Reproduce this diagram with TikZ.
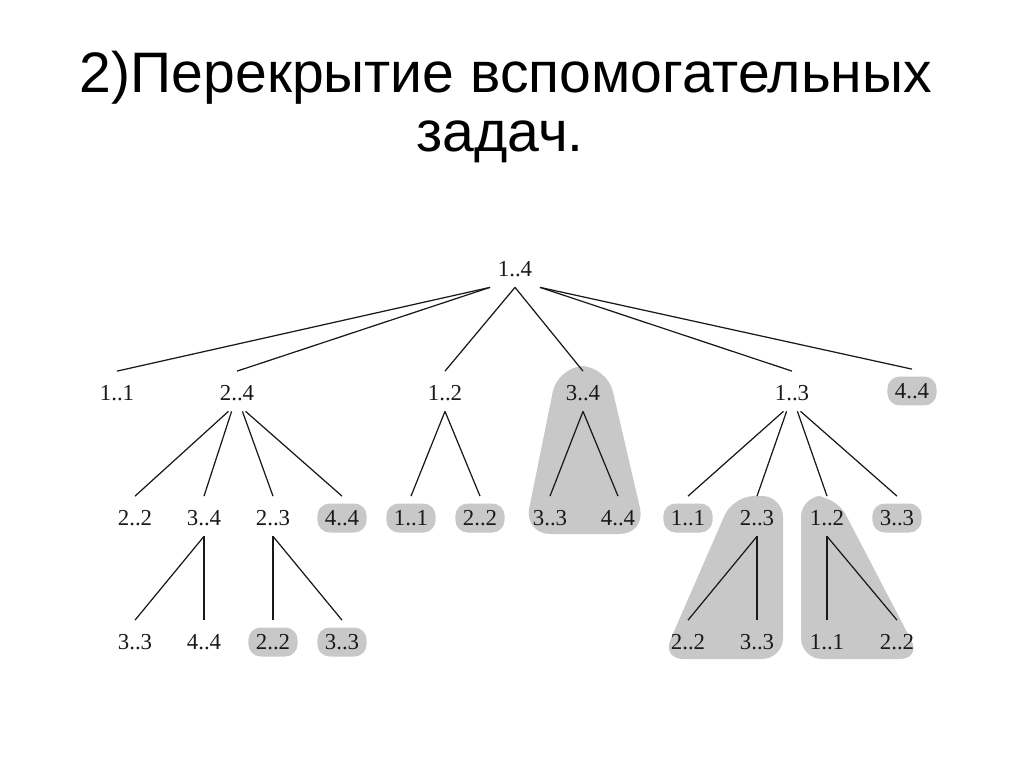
\documentclass[tikz,border=0pt]{standalone}
\usepackage{fontspec}
\setmainfont{Liberation Serif}
\newfontfamily\titlefont{Liberation Sans}
\definecolor{shade}{RGB}{200,200,200}
\definecolor{ink}{RGB}{25,25,25}
\tikzset{
  tn/.style={rectangle, rounded corners=7pt, minimum width=28pt, minimum height=16.5pt,
             inner sep=1pt, font=\fontsize{13}{15}\selectfont, text=ink},
  hl/.style={tn, fill=shade},
  edge/.style={draw=ink, line width=0.7pt},
  blob/.style={fill=shade, rounded corners=12pt},
  ttl/.style={font=\titlefont\fontsize{32.5}{34}\selectfont, anchor=base, inner sep=0pt, text=black},
}
\newcommand\tedge[2]{\draw[edge] ([yshift=-2pt]#1) -- ([yshift=4pt]#2.north);}
\begin{document}
\begin{tikzpicture}[x=0.02cm,y=-0.02cm]
\useasboundingbox (0,0) rectangle (1024,767);
\fill[white] (0,0) rectangle (1024,767);

% title
\node[ttl] (t1) at (506,92) {2)Перекрытие вспомогательных};
\node[ttl] (t2) at (500,152) {задач.};

% shaded subtrees
\fill[blob, rounded corners=15pt] (558,366) -- (607,366) -- (646,534) -- (524,534) -- cycle;
\fill[blob] (733,496) -- (783,496) -- (783,659) -- (662,659) -- cycle;
\fill[blob] (801,496) -- (836,496) -- (921,659) -- (801,659) -- cycle;

% root
\node[tn] (r) at (515,269) {1..4};
% level 1
\node[tn] (a) at (117,393) {1..1};
\node[tn] (b) at (237,393) {2..4};
\node[tn] (c) at (445,393) {1..2};
\node[tn] (d) at (583,393) {3..4};
\node[tn] (e) at (792,393) {1..3};
\node[hl] (f) at (912,391) {4..4};
% level 2
\node[tn] (b1) at (135,518) {2..2};
\node[tn] (b2) at (204,518) {3..4};
\node[tn] (b3) at (273,518) {2..3};
\node[hl] (b4) at (342,518) {4..4};
\node[hl] (c1) at (411,518) {1..1};
\node[hl] (c2) at (480,518) {2..2};
\node[tn] (d1) at (550,518) {3..3};
\node[tn] (d2) at (618,518) {4..4};
\node[hl] (e1) at (688,518) {1..1};
\node[tn] (e2) at (757,518) {2..3};
\node[tn] (e3) at (827,518) {1..2};
\node[hl] (e4) at (897,518) {3..3};
% level 3
\node[tn] (b21) at (135,642) {3..3};
\node[tn] (b22) at (204,642) {4..4};
\node[hl] (b31) at (273,642) {2..2};
\node[hl] (b32) at (342,642) {3..3};
\node[tn] (e21) at (688,642) {2..2};
\node[tn] (e22) at (757,642) {3..3};
\node[tn] (e31) at (827,642) {1..1};
\node[tn] (e32) at (897,642) {2..2};

% edges
\tedge{r.south west}{a}
\tedge{r.south west}{b}
\tedge{r.south}{c}
\tedge{r.south}{d}
\tedge{r.south east}{e}
\tedge{r.south east}{f}

\tedge{b.-120}{b1}
\tedge{b.-110}{b2}
\tedge{b.-70}{b3}
\tedge{b.-60}{b4}
\tedge{c.south}{c1}
\tedge{c.south}{c2}
\tedge{d.south}{d1}
\tedge{d.south}{d2}
\tedge{e.-120}{e1}
\tedge{e.-110}{e2}
\tedge{e.-70}{e3}
\tedge{e.-60}{e4}

\tedge{b2.south}{b21}
\tedge{b2.south}{b22}
\tedge{b3.south}{b31}
\tedge{b3.south}{b32}
\tedge{e2.south}{e21}
\tedge{e2.south}{e22}
\tedge{e3.south}{e31}
\tedge{e3.south}{e32}
\end{tikzpicture}
\end{document}
